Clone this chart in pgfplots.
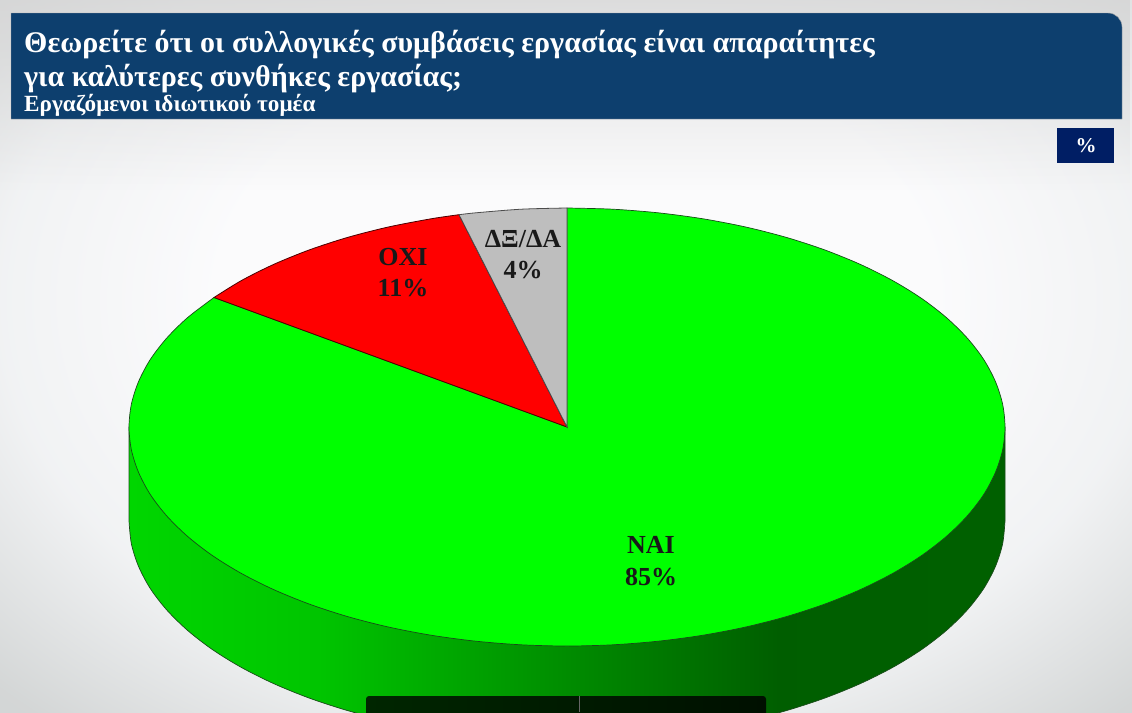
\documentclass[border=0pt]{standalone}
\usepackage{fontspec}
\setmainfont{Liberation Serif}
\usepackage{pgfplots}
\usetikzlibrary{fadings}
\pgfplotsset{compat=1.18}
\definecolor{headblue}{RGB}{13,63,110}
\definecolor{boxblue}{RGB}{0,30,100}
\definecolor{pieline}{RGB}{25,75,25}
\definecolor{greytop}{RGB}{190,190,190}
\pgfdeclareradialshading{pagebg}{\pgfpoint{0bp}{0bp}}{
  rgb(0bp)=(0.985,0.985,0.99); rgb(11bp)=(0.985,0.985,0.99); rgb(18bp)=(0.945,0.95,0.955); rgb(25bp)=(0.83,0.84,0.84); rgb(50bp)=(0.75,0.76,0.76)}
\pgfdeclarehorizontalshading{sidegreen}{100bp}{
  rgb(0bp)=(0,0.84,0); rgb(25bp)=(0,0.84,0); rgb(36bp)=(0,0.77,0); rgb(50bp)=(0,0.55,0); rgb(62bp)=(0,0.37,0); rgb(100bp)=(0,0.39,0)}
\begin{document}
\begin{tikzpicture}
\begin{axis}[
    scale only axis,
    width=1132pt, height=712pt,
    xmin=0, xmax=1132, ymin=0, ymax=712,
    y dir=reverse,
    hide axis,
]
% background
\fill[shading=pagebg] (axis cs:-224,-260) rectangle (axis cs:1376,860);
\fill[black!17, path fading=south] (axis cs:0,-60) rectangle (axis cs:1132,190);

% side of the pie, front half
\addplot[draw=pieline, line width=0.7pt, shading=sidegreen, smooth] coordinates {
(129,521) (131.4,543.9) (138.6,566.5) (150.4,588.7) (166.9,610.1) (187.7,630.5) (212.6,649.7)
(241.5,667.5) (273.9,683.7) (309.6,698.2) (348,710.7) (388.8,721.1) (431.6,729.3) (475.9,735.2) (521.2,738.8)
(567,740) (612.8,738.8) (658.1,735.2) (702.4,729.3) (745.2,721.1) (786,710.7) (824.4,698.2) (860.1,683.7)
(892.5,667.5) (921.4,649.7) (946.3,630.5) (967.1,610.1) (983.6,588.7) (995.4,566.5) (1002.6,543.9) (1005,521)}
 -- (axis cs:1005,427) -- (axis cs:129,427) -- cycle;

% NAI 85
\addplot[draw=pieline, line width=0.7pt, fill={rgb,255:red,0;green,255;blue,0}, smooth] coordinates {
(567,208) (612.8,209.2) (658.1,212.8) (702.4,218.7) (745.2,226.9) (786,237.3) (824.4,249.8) (860.1,264.3)
(892.5,280.5) (921.4,298.3) (946.3,317.5) (967.1,337.9) (983.6,359.3) (995.4,381.5) (1002.6,404.1) (1005,427)
(1002.6,449.9) (995.4,472.5) (983.6,494.7) (967.1,516.1) (946.3,536.5) (921.4,555.7) (892.5,573.5) (860.1,589.7)
(824.4,604.2) (786,616.7) (745.2,627.1) (702.4,635.3) (658.1,641.2) (612.8,644.8) (567,646)
(521.2,644.8) (475.9,641.2) (431.6,635.3) (388.8,627.1) (348,616.7) (309.6,604.2) (273.9,589.7) (241.5,573.5)
(212.6,555.7) (187.7,536.5) (166.9,516.1) (150.4,494.7) (138.6,472.5) (131.4,449.9) (129,427)
(131.4,404.1) (138.6,381.5) (150.4,359.3) (166.9,337.9) (187.7,317.5) (214,297.5)}
 -- (axis cs:567,427) -- cycle;

% OXI 11
\addplot[draw=black!70!red, line width=0.8pt, fill={rgb,255:red,255;green,0;blue,0}, smooth] coordinates {
(214,297.5) (241.5,280.5) (273.9,264.3) (309.6,249.8) (348,237.3) (388.8,226.9) (431.6,218.7) (459,214.7)}
 -- (axis cs:567,427) -- cycle;

% DX/DA 4
\addplot[draw=black!70, line width=0.8pt, fill=greytop, smooth] coordinates {
(459,214.7) (475.9,212.8) (521.2,209.2) (567,208)}
 -- (axis cs:567,427) -- cycle;

% slice labels
\node[align=center, font=\fontsize{26}{31}\selectfont\bfseries, text=black!90] at (axis cs:523,255) {ΔΞ/ΔΑ\\4\%};
\node[align=center, font=\fontsize{26}{31}\selectfont\bfseries, text=black!90] at (axis cs:403,273) {ΟΧΙ\\11\%};
\node[align=center, font=\fontsize{26}{32}\selectfont\bfseries, text=black!90] at (axis cs:651,561) {ΝΑΙ\\85\%};

% header
\fill[headblue, draw=gray!70] (axis cs:11,119) -- (axis cs:11,13) -- (axis cs:1108,13)
  arc[start angle=90, end angle=0, radius=14pt] -- (axis cs:1122,119) -- cycle;
\node[anchor=base west, inner sep=0pt, text=white, font=\fontsize{30}{33}\selectfont\bfseries] at (axis cs:24,52) {Θεωρείτε ότι οι συλλογικές συμβάσεις εργασίας είναι απαραίτητες};
\node[anchor=base west, inner sep=0pt, text=white, font=\fontsize{30}{33}\selectfont\bfseries] at (axis cs:24,86) {για καλύτερες συνθήκες εργασίας;};
\node[anchor=base west, inner sep=0pt, text=white, font=\fontsize{23.2}{26}\selectfont\bfseries] at (axis cs:24,111) {Εργαζόμενοι ιδιωτικού τομέα};

% percent box
\fill[boxblue] (axis cs:1057,128) rectangle (axis cs:1114,163);
\node[text=white, font=\fontsize{21}{24}\selectfont\bfseries] at (axis cs:1086,146) {\%};

% toolbar at the bottom edge
\shade[left color={rgb,255:red,0;green,38;blue,0}, right color={rgb,255:red,0;green,16;blue,0}, rounded corners=3pt] (axis cs:366,696) rectangle (axis cs:766,720);
\draw[gray!80!black, line width=0.5pt] (axis cs:579,696) -- (axis cs:579,712);
\end{axis}
\end{tikzpicture}
\end{document}
